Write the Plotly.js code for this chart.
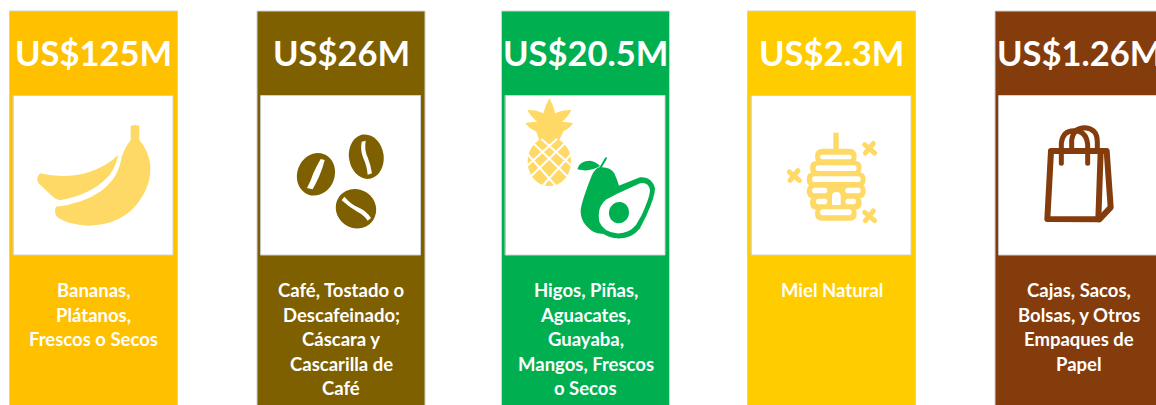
<!DOCTYPE html>
<html><head><meta charset="utf-8">
<script src="https://cdn.plot.ly/plotly-3.0.1.min.js"></script>
<style>html,body{margin:0;padding:0;background:#fff;overflow:hidden}
.shapelayer path{stroke-linejoin:round;stroke-linecap:round}</style>
</head><body><div id="chart" style="width:1156px;height:405px"></div>
<script>
const values = [125, 26, 20.5, 2.3, 1.26];
const productLines = [
  ["Bananas,", "Plátanos,", "Frescos o Secos"],
  ["Café, Tostado o", "Descafeinado;", "Cáscara y", "Cascarilla de", "Café"],
  ["Higos, Piñas,", "Aguacates,", "Guayaba,", "Mangos, Frescos", "o Secos"],
  ["Miel Natural"],
  ["Cajas, Sacos,", "Bolsas, y Otros", "Empaques de", "Papel"]
];
const panelColors = ["#FFC000", "#7F6000", "#00B050", "#FFCC00", "#843C0C"];
const panelLeft = [9.5, 257, 501.5, 747.5, 995];
const HONEY = "#FFD966", GREEN = "#00B050", COFFEE = "#7F6000", BROWN = "#843C0C";
const PW = 168, TOP = 11, BOTTOM = 406, BOX_T = 95.5, BOX = 159.5, BOX_IN = 4;
const LINE0 = 290, LINEH = 24.5;

const shapes = [];
const tr = (d, ox, oy) => d.replace(/(-?[\d.]+)[ ,]+(-?[\d.]+)/g, (m, a, b) =>
  ((+a) / 3 + ox).toFixed(2) + "," + ((+b) / 3 + oy).toFixed(2));
const noFill = "rgba(0,0,0,0)";
function fillP(d, ox, oy, c) { shapes.push({type:"path", xref:"x", yref:"y", path:tr(d,ox,oy), fillcolor:c, line:{width:0}}); }
function strokeP(d, ox, oy, c, w) { shapes.push({type:"path", xref:"x", yref:"y", path:tr(d,ox,oy), fillcolor:noFill, line:{color:c, width:w}}); }
function ell(cx, cy, rx, ry, deg) {
  const k = 0.5523, t = deg * Math.PI / 180, c = Math.cos(t), s = Math.sin(t);
  const p = (u, v) => (cx + u*c - v*s).toFixed(1) + "," + (cy + u*s + v*c).toFixed(1);
  return "M" + p(rx,0) + " C" + p(rx,k*ry) + " " + p(k*rx,ry) + " " + p(0,ry) +
    " C" + p(-k*rx,ry) + " " + p(-rx,k*ry) + " " + p(-rx,0) +
    " C" + p(-rx,-k*ry) + " " + p(-k*rx,-ry) + " " + p(0,-ry) +
    " C" + p(k*rx,-ry) + " " + p(rx,-k*ry) + " " + p(rx,0) + " Z";
}
function pill(x0, x1, y0, y1) {
  const r = (y1 - y0) / 2, m = (y0 + y1) / 2;
  return `M${x0+r},${y0} L${x1-r},${y0} Q${x1},${y0} ${x1},${m} Q${x1},${y1} ${x1-r},${y1} L${x0+r},${y1} Q${x0},${y1} ${x0},${m} Q${x0},${y0} ${x0+r},${y0} Z`;
}

// white picture boxes
panelLeft.forEach(l => shapes.push({type:"rect", xref:"x", yref:"y", x0:l+BOX_IN, x1:l+BOX_IN+BOX, y0:BOX_T, y1:BOX_T+BOX,
  fillcolor:"#fff", line:{color:"#D0D0D0", width:1}}));

// banana
fillP("M120,250 Q200,268 270,245 Q320,228 355,195 Q345,240 320,265 Q270,315 180,331 Q165,328 150,312 L116,280 Q106,265 120,250 Z", 0, 90, HONEY);
fillP("M392,108 Q405,102 418,108 L418,150 Q445,180 451,225 Q455,280 420,330 Q370,405 265,407 Q205,405 172,382 Q160,365 168,350 Q250,340 300,305 Q350,270 362,215 Q368,180 392,150 Z", 0, 90, HONEY);

// coffee beans
fillP(ell(948,253,56,65,22), 0, 90, COFFEE);
fillP(ell(1099,200,52,67,-8), 0, 90, COFFEE);
fillP(ell(1068,356,62,58,35), 0, 90, COFFEE);
fillP("M962,207 L974,210 Q968,235 958,258 Q948,280 938,298 L921,294 Q933,272 940,250 Q950,228 962,207 Z", 0, 90, "#fff");
fillP("M1085,155 L1097,152 Q1092,180 1104,205 Q1112,225 1116,250 L1103,254 Q1100,225 1090,205 Q1080,180 1085,155 Z", 0, 90, "#fff");
fillP("M1033,320 L1025,331 Q1045,350 1072,365 Q1092,375 1103,392 L1113,384 Q1100,365 1080,355 Q1055,345 1033,320 Z", 0, 90, "#fff");

// pineapple
fillP("M148,25 Q160,45 166,70 Q190,58 214,60 Q205,80 186,95 Q205,95 220,100 Q205,118 190,124 L176,155 L120,155 L108,124 Q90,118 76,100 Q92,95 112,95 Q92,80 82,60 Q106,58 130,70 Q136,45 148,25 Z", 500, 90, HONEY);
fillP(ell(148,215,65,73,0), 500, 90, HONEY);
["M100,160 L205,262","M125,148 L212,225","M85,195 L165,285","M195,160 L90,262","M170,148 L84,225","M211,195 L130,285"]
  .forEach(d => strokeP(d, 500, 90, "#fff", 2));

// avocado
fillP("M232,236 Q240,212 270,212 Q290,216 300,228 Q270,245 245,240 Q236,240 232,236 Z", 500, 90, GREEN);
strokeP("M302,232 L318,205", 500, 90, GREEN, 2);
fillP("M296,232 Q330,228 343,250 Q352,270 358,290 L330,420 Q310,440 280,425 Q240,400 242,360 Q245,335 270,270 Q280,240 296,232 Z", 500, 90, GREEN);
fillP("M345,292 L420,262 Q455,258 465,295 Q465,320 440,375 L420,415 Q395,448 350,445 Q300,440 285,400 Q280,345 310,315 Z", 500, 90, GREEN);
fillP("M350,312 L420,280 Q445,275 450,300 Q450,320 425,375 L408,405 Q385,432 350,430 Q310,425 298,395 Q290,350 320,328 Z", 500, 90, "#fff");
fillP(ell(357,368,30,32,15), 500, 90, GREEN);

// hive
fillP("M1000,128 L1016,128 L1016,180 L1000,180 Z", 500, 90, HONEY);
[[945,1070,176,222],[930,1085,212,255],[920,1097,247,290],[920,1097,282,325],[930,1085,317,360],[945,1070,350,392]]
  .forEach(r => fillP(pill(r[0],r[1],r[2],r[3]), 500, 90, HONEY));
[[960,1055,194,208],[947,1070,226,243],[936,1082,259,276],[936,982,293,310],[1036,1082,293,310],[948,982,326,343],[1036,1068,326,343],[960,1055,358,376]]
  .forEach(r => fillP(pill(r[0],r[1],r[2],r[3]), 500, 90, "#fff"));
fillP("M996,345 L996,318 Q996,306 1009,306 Q1022,306 1022,318 L1022,345 Z", 500, 90, "#fff");
[[882,257],[1108,175],[1108,378]].forEach(b => {
  strokeP(`M${b[0]-14},${b[1]-11} L${b[0]+16},${b[1]+14}`, 500, 90, HONEY, 5);
  strokeP(`M${b[0]+12},${b[1]-15} L${b[0]-12},${b[1]+14}`, 500, 90, HONEY, 5);
});

// bag
const bw = 6;
strokeP("M183,183 L350,183 L362,352 L328,388 L172,387 Z", 990, 90, BROWN, bw);
strokeP("M332,183 L325,388", 990, 90, BROWN, bw);
strokeP("M214,220 L214,160 Q218,122 252,122 Q290,122 293,165 L293,220", 990, 90, BROWN, 5);
strokeP("M245,183 L245,150 Q250,113 285,113 Q322,116 322,155 L322,183", 990, 90, BROWN, 5);

// text
const annotations = [];
const font = "Lato, Carlito, sans-serif";
values.forEach((v, i) => {
  const cx = panelLeft[i] + PW / 2;
  annotations.push({xref:"x", yref:"y", x:cx, y:52, text:"<b>US$" + v + "M</b>", showarrow:false,
    xanchor:"center", yanchor:"middle", font:{family:font, size:34.5, color:"#fff"}});
  productLines[i].forEach((t, j) => annotations.push({xref:"x", yref:"y", x:cx, y:LINE0 + j * LINEH,
    text:"<b>" + t + "</b>", showarrow:false, xanchor:"center", yanchor:"middle",
    font:{family:font, size:18.5, color:"#fff"}}));
});

const panels = {
  type:"bar", x:panelLeft.map(l => l + PW / 2), y:panelLeft.map(() => BOTTOM - TOP), base:TOP, width:PW,
  customdata:values, marker:{color:panelColors, line:{width:1, color:"#D0D0D0"}}, hoverinfo:"skip"
};
const axis = {visible:false, fixedrange:true, showgrid:false, zeroline:false};
Plotly.newPlot("chart", [panels], {
  width:1156, height:405, margin:{l:0, r:0, t:0, b:0, pad:0},
  paper_bgcolor:"#fff", plot_bgcolor:"#fff", showlegend:false,
  xaxis:Object.assign({range:[0,1156]}, axis),
  yaxis:Object.assign({range:[405,0]}, axis),
  shapes, annotations
}, {staticPlot:true, displayModeBar:false});
</script></body></html>
